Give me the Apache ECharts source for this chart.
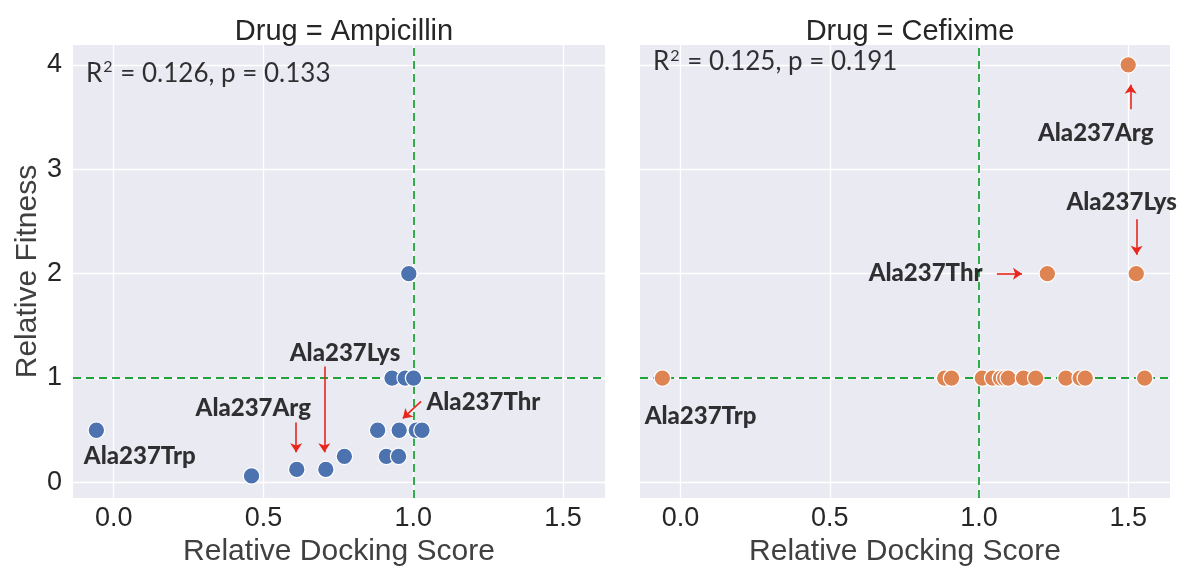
<!DOCTYPE html>
<html>
<head>
<meta charset="utf-8">
<script src="https://cdn.jsdelivr.net/npm/echarts@6/dist/echarts.min.js"></script>
<style>html,body{margin:0;padding:0;background:#fff;}#c{width:1195px;height:572px;}</style>
</head>
<body>
<div id="c"></div>
<script>
// ---- data ----
const panelTitles = ['Drug = Ampicillin', 'Drug = Cefixime'];
const statsR2 = ['0.126', '0.125'];
const statsP = ['0.133', '0.191'];
const statsPos = [[-0.094, 3.92], [-0.094, 4.03]];
const xTicks = [0, 0.5, 1, 1.5];
const yTicks = [0, 1, 2, 3, 4];
const xTickLabels = ['0.0', '0.5', '1.0', '1.5'];
const yTickLabels = ['0', '1', '2', '3', '4'];

const ampX = [-0.058, 0.46, 0.611, 0.708, 0.770, 0.881, 0.910, 0.951, 0.953, 1.010, 1.029, 0.929, 0.973, 1.001, 0.985];
const ampY = [0.5, 0.0625, 0.125, 0.125, 0.25, 0.5, 0.25, 0.25, 0.5, 0.5, 0.5, 1, 1, 1, 2];

const cefX = [-0.061, 0.885, 0.908, 1.011, 1.046, 1.072, 1.086, 1.098, 1.149, 1.190, 1.291, 1.339, 1.356, 1.555, 1.5, 1.229, 1.527];
const cefY = [1, 1, 1, 1, 1, 1, 1, 1, 1, 1, 1, 1, 1, 1, 4, 2, 2];

const ampLabels = ['Ala237Trp', 'Ala237Arg', 'Ala237Lys', 'Ala237Thr'];
const ampLabelX = [0.087, 0.466, 0.772, 1.234];
const ampLabelY = [0.252, 0.714, 1.242, 0.764];
const ampArrowFrom = [[0.609, 0.575], [0.703, 1.11], [1.026, 0.776]];
const ampArrowTo = [[0.609, 0.29], [0.703, 0.29], [0.965, 0.613]];

const cefLabels = ['Ala237Trp', 'Ala237Arg', 'Ala237Lys', 'Ala237Thr'];
const cefLabelX = [0.067, 1.391, 1.478, 0.821];
const cefLabelY = [0.632, 3.34, 2.68, 2.0];
const cefArrowFrom = [[1.508, 3.575], [1.528, 2.52], [1.06, 2.0]];
const cefArrowTo = [[1.508, 3.81], [1.528, 2.18], [1.144, 2.0]];

const refX = 1, refY = 1;
const colors = ['#4C72B0', '#DD8452'];

// ---- chart ----
const chart = echarts.init(document.getElementById('c'), null, {renderer: 'canvas'});
const grids = [
  {left: 73, right: 590, top: 45, height: 460},
  {left: 640, right: 25, top: 45, height: 460}
];
const tickFont = {fontFamily: 'Liberation Sans, Arial, sans-serif', fontSize: 27, color: '#262626'};
const nameFont = {fontFamily: 'Liberation Sans, Arial, sans-serif', fontSize: 30, color: '#404040'};

function xAxis(i) {
  return {
    type: 'value', gridIndex: i, min: -0.136, max: 1.64,
    name: 'Relative Docking Score', nameLocation: 'middle', nameGap: 37,
    nameTextStyle: nameFont,
    axisLine: {show: false},
    axisTick: {show: false, customValues: xTicks},
    axisLabel: Object.assign({customValues: xTicks, margin: 7,
      formatter: v => xTickLabels[xTicks.indexOf(Math.round(v * 100) / 100)] ?? ''}, tickFont),
    splitLine: {show: true, lineStyle: {color: '#ffffff', width: 1.3}}
  };
}
function yAxis(i) {
  return {
    type: 'value', gridIndex: i, min: -0.15, max: 4.19,
    name: i === 0 ? 'Relative Fitness' : '', nameLocation: 'middle', nameGap: 30,
    nameTextStyle: nameFont,
    axisLine: {show: false},
    axisTick: {show: false, customValues: yTicks},
    axisLabel: Object.assign({show: i === 0, customValues: yTicks, margin: 11,
      formatter: v => yTickLabels[yTicks.indexOf(Math.round(v))] ?? ''}, tickFont),
    splitLine: {show: true, lineStyle: {color: '#ffffff', width: 1.3}}
  };
}

function pointSeries(i, xs, ys) {
  return {
    type: 'scatter', xAxisIndex: i, yAxisIndex: i,
    data: xs.map((x, k) => [x, ys[k]]),
    symbolSize: 16.5,
    itemStyle: {color: colors[i], borderColor: '#ffffff', borderWidth: 1.2, opacity: 1},
    z: 3,
    markLine: {
      silent: true, symbol: ['none', 'none'],
      label: {show: false},
      lineStyle: {color: '#1fa33a', type: [8, 5], width: 1.8},
      data: [{xAxis: refX}, {yAxis: refY}],
      z: 2
    }
  };
}
function labelSeries(i, names, lx, ly, from, to) {
  return {
    type: 'scatter', xAxisIndex: i, yAxisIndex: i,
    data: names.map((n, k) => ({name: n, value: [lx[k], ly[k]]})),
    symbolSize: 1,
    itemStyle: {color: 'rgba(0,0,0,0)'},
    silent: true,
    z: 5,
    label: {show: true, position: 'inside', formatter: p => p.name,
      fontFamily: 'Lato, Open Sans, sans-serif', fontWeight: 900, fontSize: 24, color: '#000000'},
    labelLayout: {hideOverlap: false},
    markLine: {
      silent: true, symbol: ['none', 'arrow'], symbolSize: [9, 9],
      label: {show: false},
      lineStyle: {color: '#e8261c', type: 'solid', width: 1.6},
      data: from.map((f, k) => [{coord: f}, {coord: to[k]}])
    }
  };
}
function statsSeries(i) {
  return {
    type: 'scatter', xAxisIndex: i, yAxisIndex: i,
    data: [{name: 'R', value: statsPos[i]}],
    symbolSize: 1, itemStyle: {color: 'rgba(0,0,0,0)'}, silent: true, z: 5,
    label: {show: true, position: 'right', distance: 0,
      formatter: () => '{a|R}{s|2}{a| = ' + statsR2[i] + ', p = ' + statsP[i] + '}',
      rich: {
        a: {fontFamily: 'Lato, Open Sans, sans-serif', fontSize: 26, color: '#000000', lineHeight: 30},
        s: {fontFamily: 'Lato, Open Sans, sans-serif', fontSize: 16, color: '#000000', lineHeight: 30,
            verticalAlign: 'top', padding: [1, 1, 0, 1]}
      }}
  };
}

chart.setOption({
  animation: false,
  backgroundColor: '#ffffff',
  title: panelTitles.map((t, i) => ({
    text: t, left: i === 0 ? 339 : 905, top: 12, textAlign: 'center',
    textStyle: {fontFamily: 'Liberation Sans, Arial, sans-serif', fontSize: 29, fontWeight: 'normal', color: '#262626'}
  })),
  grid: grids.map(g => Object.assign({show: true, backgroundColor: '#eaeaf2', borderWidth: 0}, g)),
  xAxis: [xAxis(0), xAxis(1)],
  yAxis: [yAxis(0), yAxis(1)],
  series: [
    pointSeries(0, ampX, ampY),
    pointSeries(1, cefX, cefY),
    labelSeries(0, ampLabels, ampLabelX, ampLabelY, ampArrowFrom, ampArrowTo),
    labelSeries(1, cefLabels, cefLabelX, cefLabelY, cefArrowFrom, cefArrowTo),
    statsSeries(0),
    statsSeries(1)
  ]
});
</script>
</body>
</html>
